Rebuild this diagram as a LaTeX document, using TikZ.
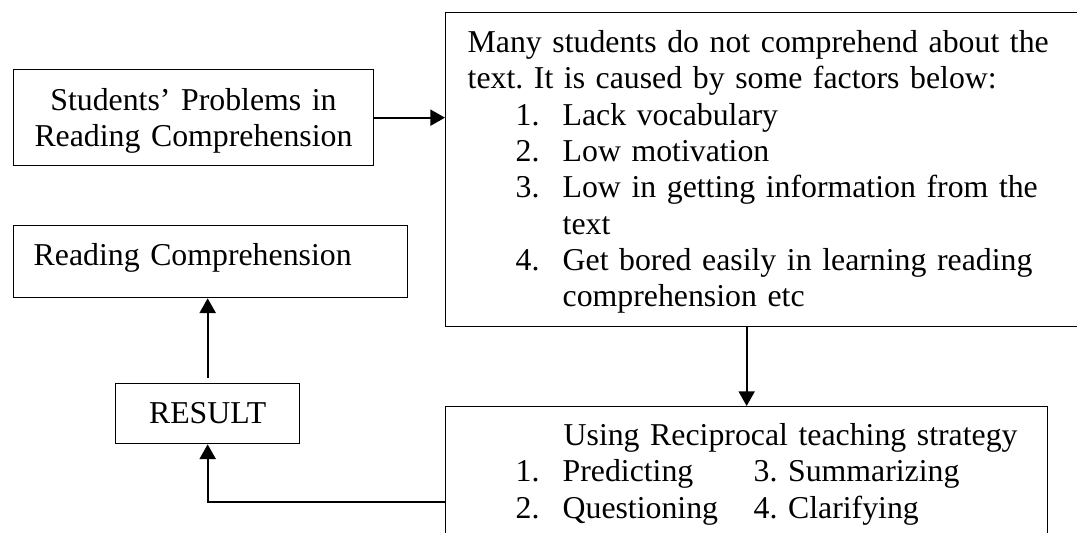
\documentclass[tikz,border=0pt]{standalone}
\usepackage{fontspec}
\setmainfont{Liberation Serif}
\usetikzlibrary{arrows.meta}
\frenchspacing

% numbered line inside the factor box
\newcommand{\numitem}[2]{\hspace*{36pt}\makebox[35.25pt][l]{#1}#2}

\begin{document}
\begin{tikzpicture}[x=0.75pt,y=-0.75pt,
    box/.style={draw, line width=1pt, inner ysep=0pt, font=\fontsize{23.85}{27.2}\selectfont},
    flow/.style={-{Triangle[length=11pt,width=12pt]}, line width=1.5pt}]
    % Keep the page at the size of the reference
    \useasboundingbox (0,0) rectangle (1077,532);

    % Draw the problem box
    \node[box, anchor=north west, inner xsep=0pt, text width=270.2pt, align=center,
          text height=30.75pt, text depth=41.25pt] (problem) at (12.7,69)
        {Students’ Problems in\\Reading Comprehension};

    % Draw the box with the factors (runs off the right edge)
    \node[box, anchor=north west, inner xsep=16.5pt, text width=444.75pt, align=left,
          text height=30pt, text depth=205.5pt] (factors) at (445,12)
        {Many students do not comprehend about the\\
         text. It is caused by some factors below:\\
         \numitem{1.}{Lack vocabulary}\\
         \numitem{2.}{Low motivation}\\
         \numitem{3.}{Low in getting information from the}\\
         \numitem{}{text}\\
         \numitem{4.}{Get bored easily in learning reading}\\
         \numitem{}{comprehension etc}};

    % Draw the goal box
    \node[box, anchor=north west, inner xsep=15.25pt, text width=265.3pt, align=left,
          text height=30pt, text depth=24pt] (reading) at (12.7,225)
        {Reading Comprehension};

    % Draw the result box
    \node[box, anchor=north west, inner xsep=0pt, text width=138pt, align=center,
          text height=30pt, text depth=15pt] (result) at (115,383)
        {RESULT};

    % Draw the strategy box (runs off the bottom edge)
    \node[box, anchor=north west, inner xsep=0pt, text width=451.5pt, align=left,
          text height=29.25pt, text depth=113.25pt] (strategy) at (445,406)
        {\hspace*{88.5pt}Using Reciprocal teaching strategy\\
         \hspace*{52.5pt}\makebox[35.25pt][l]{1.}\makebox[143.25pt][l]{Predicting}3. Summarizing\\
         \hspace*{52.5pt}\makebox[35.25pt][l]{2.}\makebox[143.25pt][l]{Questioning}4. Clarifying};

    % Add the arrows between the boxes
    \draw[flow] (problem.east) -- (problem.east -| factors.west);
    \draw[flow] (factors.south -| strategy.north) -- (strategy.north);
    \draw[flow] (strategy.west) -| (result.south);
    \draw[flow, shorten <=4pt] (result.north) -- (result.north |- reading.south);
\end{tikzpicture}
\end{document}
